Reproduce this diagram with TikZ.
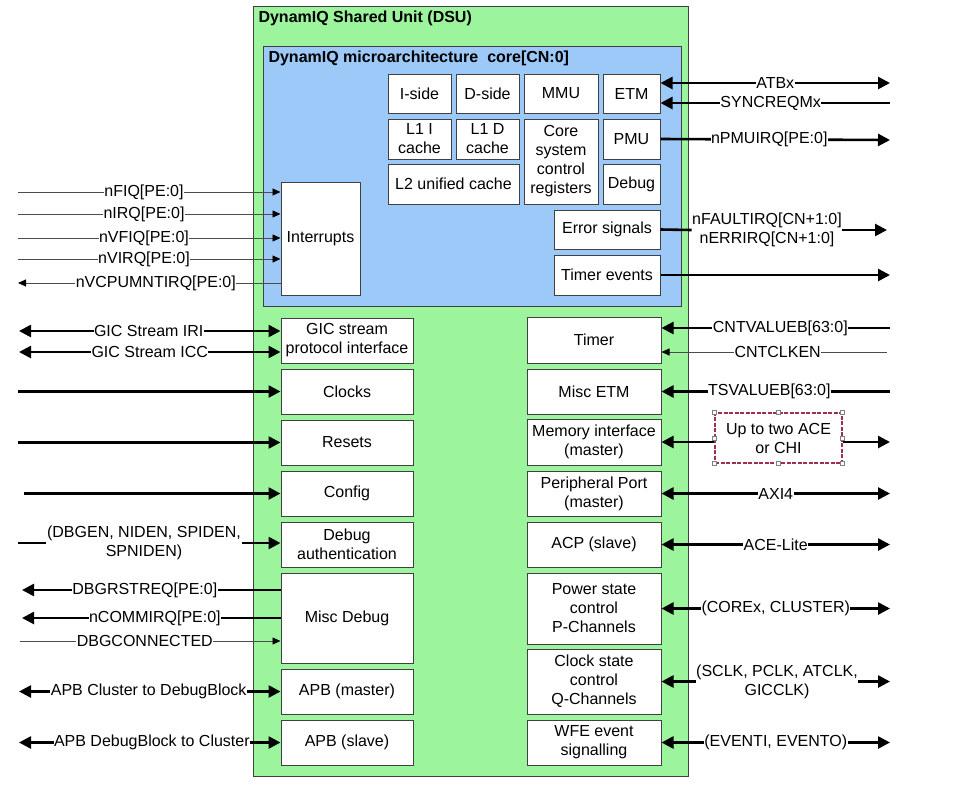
\documentclass[tikz,border=0pt]{standalone}
\usepackage{fontspec}
\setmainfont{Liberation Sans}
\usepackage{tikz}
\usetikzlibrary{arrows.meta}
\definecolor{dsubg}{HTML}{9CF59C}
\definecolor{corebg}{HTML}{9DC9F8}
\definecolor{boxline}{HTML}{404040}
\definecolor{selred}{HTML}{A0304A}

\begin{document}
\begin{tikzpicture}[x=1pt, y=-1pt, font=\fontsize{16}{19}\selectfont,
  box/.style={draw=boxline, line width=1pt, fill=white, align=center, inner sep=1pt},
  lbox/.style={box, minimum width=132, minimum height=45},
  rbox/.style={box, minimum width=134, minimum height=45},
  bus/.style={line width=2.6pt, >={Triangle[length=12pt,width=12pt]}},
  wire/.style={line width=0.9pt, draw=black!70, >={Triangle[length=8pt,width=7pt,color=black]}},
  sig/.style={fill=white, inner sep=0.5pt, align=center},
  handle/.style={draw=gray, fill=white, line width=0.5pt, minimum size=4pt, inner sep=0pt}]
  \useasboundingbox (0,0) rectangle (953,788);

  % DSU and core containers
  \node[draw=boxline, line width=1pt, fill=dsubg, minimum width=435, minimum height=770] (dsu) at (470.5,391) {};
  \node[anchor=west, font=\fontsize{16}{19}\selectfont\bfseries] (dsutitle) at (255,18) {DynamIQ Shared Unit (DSU)};
  \node[draw=boxline, line width=1pt, fill=corebg, minimum width=418, minimum height=260] (core) at (472,176) {};
  \node[anchor=west, font=\fontsize{16}{19}\selectfont\bfseries] (coretitle) at (265,58) {DynamIQ microarchitecture\ \ core[CN:0]};

  % Core internals
  \node[box, minimum width=63, minimum height=39] (iside) at (419.5,93.5) {I-side};
  \node[box, minimum width=63, minimum height=39] (dside) at (487.5,93.5) {D-side};
  \node[box, minimum width=74, minimum height=39] (mmu) at (561,93.5) {MMU};
  \node[box, minimum width=57, minimum height=39] (etm) at (631.5,93.5) {ETM};
  \node[box, minimum width=63, minimum height=40] (l1i) at (419.5,139) {L1 I\\cache};
  \node[box, minimum width=63, minimum height=40] (l1d) at (487.5,139) {L1 D\\cache};
  \node[box, minimum width=74, minimum height=85] (csr) at (561,161.5) {Core\\system\\control\\registers};
  \node[box, minimum width=57, minimum height=40] (pmu) at (631.5,139) {PMU};
  \node[box, minimum width=131, minimum height=40] (l2) at (453.5,184) {L2 unified cache};
  \node[box, minimum width=57, minimum height=40] (dbg) at (631.5,184) {Debug};
  \node[box, minimum width=106, minimum height=39] (err) at (607,229.5) {Error signals};
  \node[box, minimum width=106, minimum height=40] (tev) at (607,275) {Timer events};
  \node[box, minimum width=79, minimum height=113] (intr) at (320.5,238.5) {Interrupts};

  % DSU left column
  \node[lbox] (gic) at (347,340.5) {GIC stream\\protocol interface};
  \node[lbox] (clk) at (347,391.5) {Clocks};
  \node[lbox] (rst) at (347,442.5) {Resets};
  \node[lbox] (cfg) at (347,493.5) {Config};
  \node[lbox] (auth) at (347,544.5) {Debug\\authentication};
  \node[lbox, minimum height=90] (misc) at (347,618) {Misc Debug};
  \node[lbox] (apbm) at (347,691.5) {APB (master)};
  \node[lbox] (apbs) at (347,742.5) {APB (slave)};

  % DSU right column
  \node[rbox, minimum height=46] (timer) at (594,340) {Timer};
  \node[rbox] (metm) at (594,391.5) {Misc ETM};
  \node[rbox, minimum height=46] (mem) at (594,442) {Memory interface\\(master)};
  \node[rbox] (pport) at (594,493.5) {Peripheral Port\\(master)};
  \node[rbox] (acp) at (594,544.5) {ACP (slave)};
  \node[rbox, minimum height=71] (pwr) at (594,608.5) {Power state\\control\\P-Channels};
  \node[rbox, minimum height=65] (clkq) at (594,681.5) {Clock state\\control\\Q-Channels};
  \node[rbox] (wfe) at (594,742.5) {WFE event\\signalling};

  % Interrupt signals
  \coordinate (fiqL) at (18,192);
  \coordinate (irqL) at (18,214);
  \coordinate (vfiqL) at (18,238);
  \coordinate (virqL) at (18,259);
  \coordinate (vcpuL) at (18,283);
  \draw[wire, ->] (fiqL) -- (fiqL -| intr.west) node[sig, pos=0.48] {nFIQ[PE:0]};
  \draw[wire, ->] (irqL) -- (irqL -| intr.west) node[sig, pos=0.48] {nIRQ[PE:0]};
  \draw[wire, ->] (vfiqL) -- (vfiqL -| intr.west) node[sig, pos=0.48] {nVFIQ[PE:0]};
  \draw[wire, ->] (virqL) -- (virqL -| intr.west) node[sig, pos=0.48] {nVIRQ[PE:0]};
  \draw[wire, ->] (vcpuL -| intr.west) -- (vcpuL) node[sig, pos=0.475] {nVCPUMNTIRQ[PE:0]};

  % Left side buses
  \coordinate (iriL) at (19,331);
  \coordinate (iccL) at (19,352);
  \coordinate (clkL) at (18,391.5);
  \coordinate (rstL) at (18,442.5);
  \coordinate (cfgL) at (24,493.5);
  \coordinate (authL) at (18,543);
  \draw[bus, <->] (iriL) -- (iriL -| gic.west) node[sig, pos=0.496] {GIC Stream IRI};
  \draw[bus, <->] (iccL) -- (iccL -| gic.west) node[sig, pos=0.5] {GIC Stream ICC};
  \draw[bus, ->] (clkL) -- (clk.west);
  \draw[bus, ->] (rstL) -- (rst.west);
  \draw[bus, ->] (cfgL) -- (cfg.west);
  \node[align=center, inner sep=0.5pt] (authsig) at (144,543) {(DBGEN, NIDEN, SPIDEN,\\SPNIDEN)};
  \draw[bus] (authL) -- (authL -| authsig.west);
  \draw[bus, ->] (authsig.east |- authL) -- (authL -| auth.west);

  % Misc debug and APB
  \coordinate (rstreqL) at (22,590);
  \coordinate (commL) at (22,618);
  \coordinate (connL) at (20,641);
  \coordinate (apbmL) at (19,691.5);
  \coordinate (apbsL) at (19,742.5);
  \draw[bus, ->] (rstreqL -| misc.west) -- (rstreqL) node[sig, pos=0.525] {DBGRSTREQ[PE:0]};
  \draw[bus, ->] (commL -| misc.west) -- (commL) node[sig, pos=0.486] {nCOMMIRQ[PE:0]};
  \draw[wire, ->] (connL) -- (connL -| misc.west) node[sig, pos=0.479] {DBGCONNECTED};
  \draw[bus, <->] (apbmL) -- (apbm.west) node[sig, pos=0.496] {APB Cluster to DebugBlock};
  \draw[bus, <->] (apbsL) -- (apbs.west) node[sig, pos=0.508] {APB DebugBlock to Cluster};

  % Core outputs
  \coordinate (atbR) at (890,83);
  \coordinate (syncR) at (890,103);
  \coordinate (pmuR) at (890,140);
  \coordinate (errR) at (887,230);
  \coordinate (tevR) at (890,275);
  \draw[bus, <->] (atbR -| etm.east) -- (atbR) node[sig, pos=0.5] {ATBx};
  \draw[bus, ->] (syncR) -- (syncR -| etm.east) node[sig, pos=0.52] {SYNCREQMx};
  \draw[bus, ->] (pmu.east) -- (pmuR) node[sig, pos=0.474] {nPMUIRQ[PE:0]};
  \node[align=center, inner sep=0.5pt] (errsig) at (767,230) {nFAULTIRQ[CN+1:0]\\nERRIRQ[CN+1:0]};
  \draw[bus] (err.east) -- (errsig.west);
  \draw[bus, ->] (errsig.east) -- (errR);
  \draw[bus, ->] (tev.east) -- (tevR);

  % Right side buses
  \coordinate (cntvR) at (890,328);
  \coordinate (cntcR) at (887,352);
  \coordinate (tsR) at (890,391.5);
  \coordinate (aceR) at (890,442);
  \coordinate (axiR) at (890,493.5);
  \coordinate (liteR) at (890,544.5);
  \coordinate (pwrR) at (890,608.5);
  \coordinate (clkqR) at (890,681.5);
  \coordinate (wfeR) at (890,742.5);
  \draw[bus, ->] (cntvR) -- (cntvR -| timer.east) node[sig, pos=0.48] {CNTVALUEB[63:0]};
  \draw[wire, ->] (cntcR) -- (cntcR -| timer.east) node[sig, pos=0.485] {CNTCLKEN};
  \draw[bus, ->] (tsR) -- (metm.east) node[sig, pos=0.528] {TSVALUEB[63:0]};
  \node[draw=selred, dash pattern=on 4pt off 1.5pt, line width=1.4pt, fill=white, minimum width=127, minimum height=50, align=center, inner sep=1pt] (ace) at (778.5,438) {Up to two ACE\\or CHI};
  \draw[bus, <-] (mem.east) -- (mem.east -| ace.west);
  \draw[bus, ->] (mem.east -| ace.east) -- (aceR);
  \foreach \a in {north west, north, north east, west, east, south west, south, south east}
    \node[handle] at (ace.\a) {};
  \draw[bus, <->] (pport.east) -- (axiR) node[sig, pos=0.5] {AXI4};
  \draw[bus, <->] (acp.east) -- (liteR) node[sig, pos=0.5] {ACE-Lite};
  \draw[bus, <->] (pwr.east) -- (pwrR) node[sig, pos=0.5] {(COREx, CLUSTER)};
  \node[align=center, inner sep=0.5pt] (clkqsig) at (777,681.5) {(SCLK, PCLK, ATCLK,\\GICCLK)};
  \draw[bus, <-] (clkq.east) -- (clkqsig.west);
  \draw[bus, ->] (clkqsig.east) -- (clkqR);
  \draw[bus, <->] (wfe.east) -- (wfeR) node[sig, pos=0.5] {(EVENTI, EVENTO)};
\end{tikzpicture}
\end{document}
